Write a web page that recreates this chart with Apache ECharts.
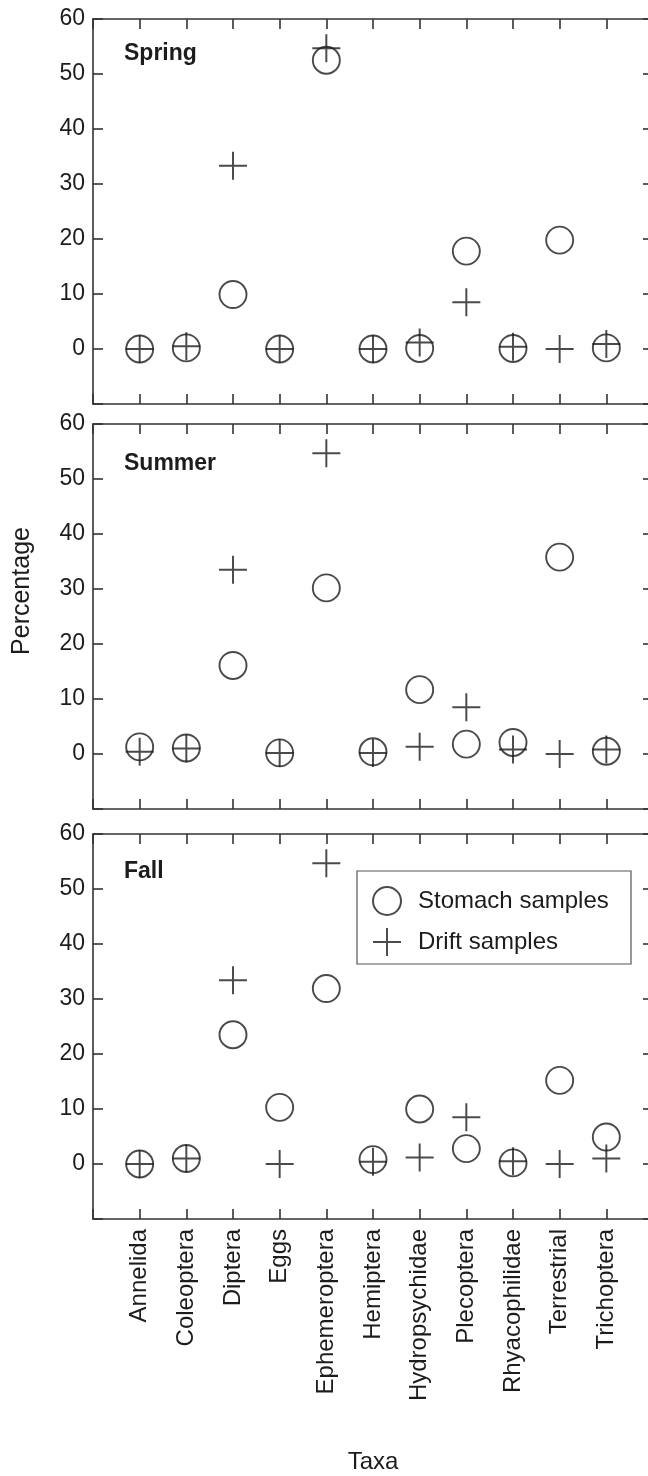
<!DOCTYPE html>
<html>
<head>
<meta charset="utf-8">
<script src="https://cdn.jsdelivr.net/npm/echarts@6/dist/echarts.min.js"></script>
<style>
  html, body { margin: 0; padding: 0; background: #ffffff; }
  #chart { width: 648px; height: 1476px; }
</style>
</head>
<body>
<div id="chart"></div>
<script>
// Taxa on the x axis
const categories = ['Annelida', 'Coleoptera', 'Diptera', 'Eggs', 'Ephemeroptera', 'Hemiptera',
  'Hydropsychidae', 'Plecoptera', 'Rhyacophilidae', 'Terrestrial', 'Trichoptera'];

// Percentages by season
const springStomach = [0, 0.2, 9.9, 0, 52.5, 0, 0.1, 17.8, 0.1, 19.8, 0.2];
const springDrift   = [0, 0.5, 33.3, 0, 54.7, 0, 1.2, 8.5, 0.4, 0, 0.9];
const summerStomach = [1.3, 1.1, 16.1, 0.2, 30.2, 0.4, 11.7, 1.8, 2.1, 35.8, 0.5];
const summerDrift   = [0.4, 1.0, 33.5, 0.2, 54.7, 0.2, 1.3, 8.5, 0.8, 0, 0.8];
const fallStomach   = [0, 1.0, 23.5, 10.3, 31.9, 0.8, 10.0, 2.8, 0.2, 15.2, 4.9];
const fallDrift     = [0, 1.0, 33.4, 0, 54.7, 0.4, 1.2, 8.5, 0.5, 0, 1.0];

const seasons = ['Spring', 'Summer', 'Fall'];
const seriesNames = ['Stomach samples', 'Drift samples'];
const yMin = -10, yMax = 60, yStep = 10;

const panels = [
  { name: seasons[0], stomach: springStomach, drift: springDrift },
  { name: seasons[1], stomach: summerStomach, drift: summerDrift },
  { name: seasons[2], stomach: fallStomach, drift: fallDrift }
];

const FONT = "'Liberation Sans', Arial, Helvetica, sans-serif";
const INK = '#1e1b1c';
const AXIS = '#333333';

// panel frames (pixels); the right border runs just past the page edge
const gridTops = [19, 424, 834];
const gridH = 385;
const gridLeft = 93;
const gridW = 560;

// padded category list so the marks sit one step in from each border
const axisCats = [''].concat(categories, ['']);

// cross-shaped marker drawn as a filled outline
const PLUS = 'path://M46.5,0 L53.5,0 L53.5,46.5 L100,46.5 L100,53.5 L53.5,53.5 L53.5,100 L46.5,100 L46.5,53.5 L0,53.5 L0,46.5 L46.5,46.5 Z';

const grid = [], xAxis = [], yAxis = [], series = [];
const lineStyle = { color: AXIS, width: 1.6 };
const tickStyle = { show: true, inside: true, length: 10, interval: 0, lineStyle: { color: AXIS, width: 1.6 } };

panels.forEach((p, i) => {
  grid.push({
    left: gridLeft, top: gridTops[i], width: gridW, height: gridH,
    containLabel: false, outerBoundsMode: 'none'
  });
  const last = i === panels.length - 1;
  // bottom axis with taxa names
  xAxis.push({
    type: 'category', gridIndex: i, data: axisCats, boundaryGap: false, position: 'bottom',
    axisLine: { show: true, onZero: false, lineStyle }, axisTick: tickStyle, splitLine: { show: false },
    axisLabel: {
      show: last, rotate: 90, interval: 0, margin: 10,
      fontFamily: FONT, fontSize: 24, color: INK
    }
  });
  // top border with ticks
  xAxis.push({
    type: 'category', gridIndex: i, data: axisCats, boundaryGap: false, position: 'top',
    axisLine: { show: true, onZero: false, lineStyle }, axisTick: tickStyle,
    axisLabel: { show: false, interval: 0 },
    splitLine: { show: false }
  });
  // left value axis
  yAxis.push({
    type: 'value', gridIndex: i, min: yMin, max: yMax, interval: yStep, position: 'left',
    axisLine: { show: true, onZero: false, lineStyle }, axisTick: tickStyle, splitLine: { show: false },
    axisLabel: {
      margin: 8, fontFamily: FONT, fontSize: 23, color: INK,
      formatter: v => (v === yMin ? '' : String(v))
    }
  });
  // right border with ticks
  yAxis.push({
    type: 'value', gridIndex: i, min: yMin, max: yMax, interval: yStep, position: 'right',
    axisLine: { show: true, onZero: false, lineStyle }, axisTick: tickStyle, splitLine: { show: false },
    axisLabel: { show: false }
  });

  series.push({
    name: seriesNames[0], type: 'scatter', xAxisIndex: i * 2, yAxisIndex: i * 2,
    symbol: 'circle', symbolSize: 27,
    itemStyle: { color: 'rgba(0,0,0,0)', borderColor: INK, borderWidth: 1.9 },
    emphasis: { disabled: true },
    data: categories.map((c, k) => [c, p.stomach[k]])
  });
  series.push({
    name: seriesNames[1], type: 'scatter', xAxisIndex: i * 2, yAxisIndex: i * 2,
    symbol: PLUS, symbolSize: 28,
    itemStyle: { color: INK, borderWidth: 0 },
    emphasis: { disabled: true },
    data: categories.map((c, k) => [c, p.drift[k]])
  });
});

// season labels, axis titles and legend frame
const seasonLabelY = [54, 464, 872];
const graphic = panels.map((p, i) => ({
  type: 'text', left: 124, top: seasonLabelY[i] - 12,
  style: { text: p.name, fontFamily: FONT, fontSize: 23, fontWeight: 'bold', fill: INK }
}));
graphic.push({
  type: 'text', x: 22, y: 591, rotation: Math.PI / 2,
  style: { text: 'Percentage', fontFamily: FONT, fontSize: 25, fill: INK, align: 'center', verticalAlign: 'middle' }
});
graphic.push({
  type: 'text', x: 373, y: 1462,
  style: { text: 'Taxa', fontFamily: FONT, fontSize: 24, fill: INK, align: 'center', verticalAlign: 'middle' }
});
graphic.push({
  type: 'rect', shape: { x: 357, y: 871, width: 274, height: 93 },
  style: { fill: '#ffffff', stroke: '#555555', lineWidth: 1.2 }, z: 0
});

const chart = echarts.init(document.getElementById('chart'), null, { renderer: 'canvas' });
chart.setOption({
  backgroundColor: '#ffffff',
  animation: false,
  grid, xAxis, yAxis, series, graphic,
  legend: {
    data: seriesNames, orient: 'vertical', left: 372, top: 886, padding: 0,
    itemGap: 12, itemWidth: 28, itemHeight: 28, selectedMode: false, z: 5,
    textStyle: { fontFamily: FONT, fontSize: 24, color: INK, padding: [0, 0, 0, 12] }
  }
});
</script>
</body>
</html>
